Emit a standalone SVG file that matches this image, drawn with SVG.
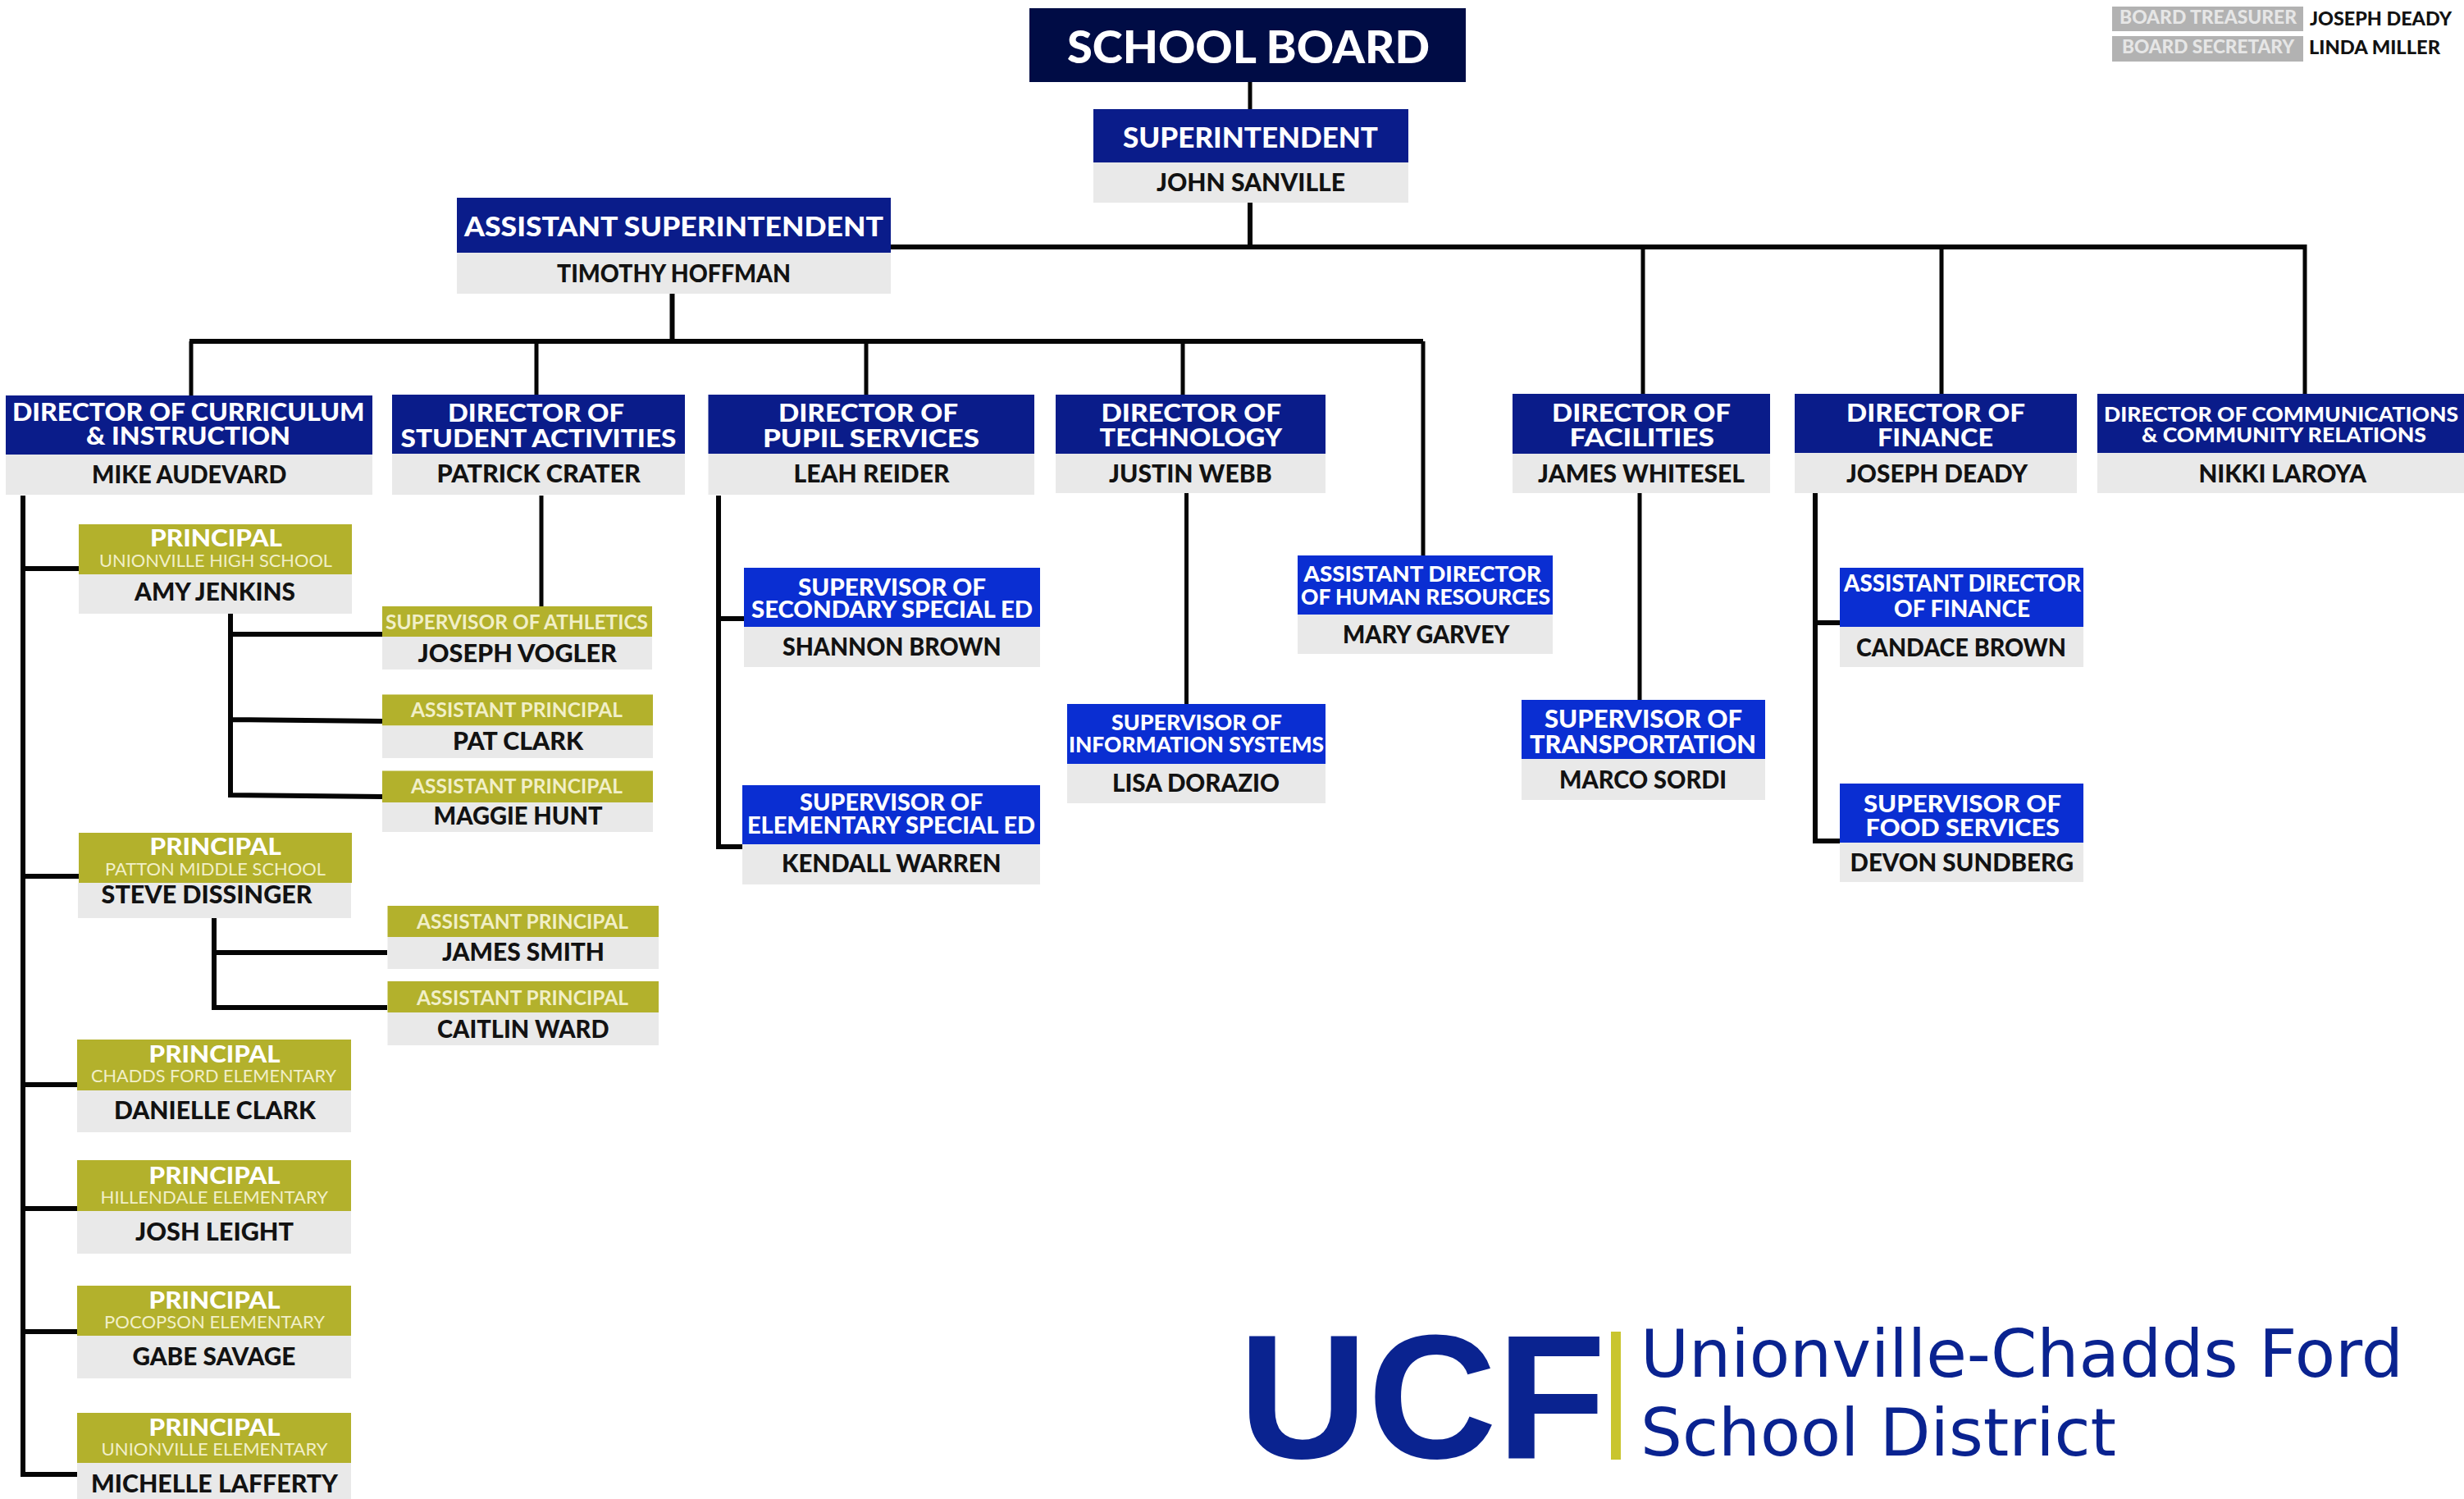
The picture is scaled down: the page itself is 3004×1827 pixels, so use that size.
<svg xmlns="http://www.w3.org/2000/svg" width="3004" height="1827" viewBox="0 0 3004 1827">
<style>
text{font-family:Lato,"Open Sans","Liberation Sans",sans-serif;font-weight:900;white-space:pre}
.w{fill:#fff}.k{fill:#121212}.s{fill:#f1efc8;font-weight:400}.a{fill:#f1efc8;font-weight:700}.l{fill:#e6e6e6}
.board{fill:#000c45}.navy{fill:#0a1c8a}.blue{fill:#0a2ed2}.olive{fill:#b3b12c}.gray{fill:#e9e9e9}.leg{fill:#b2b2b2}
#connectors path{fill:none;stroke:#050505;stroke-width:6;stroke-linejoin:miter}
#connectors .th{stroke-width:5}
</style>
<rect width="3004" height="1827" fill="#fff"/>
<g id="connectors">
<path class="th" d="M1524 100V133"/>
<path d="M1524 247V301M1086 301H2810"/>
<path class="th" d="M2003 301V481M2367 301V481M2810 298V481"/>
<path d="M819.500 358V416M231 416H1735"/>
<path class="th" d="M233 416V482M654 416V481M1056 416V481M1442 416V481M1735 416V677"/>
<path class="th" d="M660 604V739M1446.500 601V858M1999 601V853"/>
<path d="M876 604V1032H905M876 754H907"/>
<path d="M2213 601V1025H2243M2213 759H2243"/>
<path d="M28 604V1797H96M28 693H96M28 1068H96M28 1322H94M28 1473H94M28 1623H94"/>
<path d="M281 748V969L466 971M281 773H466M281 877L466 879"/>
<path d="M261 1119V1228H472M261 1161H472"/>
</g>
<g id="school-board"><rect class="board" x="1255" y="10" width="532" height="90"/><text class="w" x="1301" y="77" font-size="55" textLength="442" lengthAdjust="spacingAndGlyphs">SCHOOL BOARD</text></g>
<g id="superintendent"><rect class="navy" x="1333" y="133" width="384" height="65"/><rect class="gray" x="1333" y="198" width="384" height="49"/><text class="w" x="1369" y="180" font-size="35" textLength="311" lengthAdjust="spacingAndGlyphs">SUPERINTENDENT</text><text class="k" x="1410" y="233" font-size="31" textLength="230" lengthAdjust="spacingAndGlyphs">JOHN SANVILLE</text></g>
<g id="assistant-superintendent"><rect class="navy" x="557" y="241" width="529" height="67"/><rect class="gray" x="557" y="308" width="529" height="50"/><text class="w" x="566" y="288" font-size="33" textLength="511" lengthAdjust="spacingAndGlyphs">ASSISTANT SUPERINTENDENT</text><text class="k" x="679" y="344" font-size="31" textLength="285" lengthAdjust="spacingAndGlyphs">TIMOTHY HOFFMAN</text></g>
<g id="legend-treasurer"><rect class="leg" x="2575" y="8" width="233" height="30"/><text class="l" x="2584" y="29" font-size="22" textLength="216" lengthAdjust="spacingAndGlyphs">BOARD TREASURER</text><text class="k" x="2816" y="31" font-size="23" textLength="173" lengthAdjust="spacingAndGlyphs">JOSEPH DEADY</text></g>
<g id="legend-secretary"><rect class="leg" x="2575" y="44" width="233" height="31"/><text class="l" x="2587" y="65" font-size="22" textLength="210" lengthAdjust="spacingAndGlyphs">BOARD SECRETARY</text><text class="k" x="2815" y="66" font-size="23" textLength="160" lengthAdjust="spacingAndGlyphs">LINDA MILLER</text></g>
<g id="dir-curriculum"><rect class="navy" x="7" y="482" width="447" height="72"/><rect class="gray" x="7" y="554" width="447" height="49"/><text class="w" x="15" y="512.500" font-size="31" textLength="429.500" lengthAdjust="spacingAndGlyphs">DIRECTOR OF CURRICULUM</text><text class="w" x="105" y="541.700" font-size="31" textLength="249" lengthAdjust="spacingAndGlyphs">&amp; INSTRUCTION</text><text class="k" x="112" y="589" font-size="31" textLength="237.500" lengthAdjust="spacingAndGlyphs">MIKE AUDEVARD</text></g>
<g id="dir-student"><rect class="navy" x="478" y="481" width="357" height="72"/><rect class="gray" x="478" y="553" width="357" height="50"/><text class="w" x="546" y="514" font-size="31" textLength="215" lengthAdjust="spacingAndGlyphs">DIRECTOR OF</text><text class="w" x="488.500" y="544.500" font-size="31" textLength="336" lengthAdjust="spacingAndGlyphs">STUDENT ACTIVITIES</text><text class="k" x="532.500" y="588" font-size="31" textLength="248.500" lengthAdjust="spacingAndGlyphs">PATRICK CRATER</text></g>
<g id="dir-pupil"><rect class="navy" x="863.500" y="481" width="397.500" height="72"/><rect class="gray" x="863.500" y="553" width="397.500" height="50"/><text class="w" x="949" y="514" font-size="31" textLength="219" lengthAdjust="spacingAndGlyphs">DIRECTOR OF</text><text class="w" x="930" y="544.500" font-size="31" textLength="264" lengthAdjust="spacingAndGlyphs">PUPIL SERVICES</text><text class="k" x="967.500" y="588" font-size="31" textLength="190" lengthAdjust="spacingAndGlyphs">LEAH REIDER</text></g>
<g id="dir-technology"><rect class="navy" x="1287" y="481" width="329" height="72"/><rect class="gray" x="1287" y="553" width="329" height="48"/><text class="w" x="1342.500" y="514" font-size="31" textLength="219.500" lengthAdjust="spacingAndGlyphs">DIRECTOR OF</text><text class="w" x="1340.600" y="543.700" font-size="31" textLength="222.400" lengthAdjust="spacingAndGlyphs">TECHNOLOGY</text><text class="k" x="1352" y="588" font-size="31" textLength="198.600" lengthAdjust="spacingAndGlyphs">JUSTIN WEBB</text></g>
<g id="dir-facilities"><rect class="navy" x="1844" y="480" width="314" height="73"/><rect class="gray" x="1844" y="553" width="314" height="48"/><text class="w" x="1892" y="514" font-size="31" textLength="218" lengthAdjust="spacingAndGlyphs">DIRECTOR OF</text><text class="w" x="1913.600" y="543.700" font-size="31" textLength="176.400" lengthAdjust="spacingAndGlyphs">FACILITIES</text><text class="k" x="1875" y="588" font-size="31" textLength="252" lengthAdjust="spacingAndGlyphs">JAMES WHITESEL</text></g>
<g id="dir-finance"><rect class="navy" x="2188" y="480" width="344" height="72"/><rect class="gray" x="2188" y="552" width="344" height="49"/><text class="w" x="2251" y="514" font-size="31" textLength="218" lengthAdjust="spacingAndGlyphs">DIRECTOR OF</text><text class="w" x="2289" y="543.700" font-size="31" textLength="141" lengthAdjust="spacingAndGlyphs">FINANCE</text><text class="k" x="2251" y="588" font-size="31" textLength="221" lengthAdjust="spacingAndGlyphs">JOSEPH DEADY</text></g>
<g id="dir-communications"><rect class="navy" x="2557" y="480" width="447" height="72"/><rect class="gray" x="2557" y="552" width="447" height="49"/><text class="w" x="2565" y="514" font-size="25" textLength="432" lengthAdjust="spacingAndGlyphs">DIRECTOR OF COMMUNICATIONS</text><text class="w" x="2611" y="539" font-size="25" textLength="347" lengthAdjust="spacingAndGlyphs">&amp; COMMUNITY RELATIONS</text><text class="k" x="2680.500" y="588" font-size="31" textLength="204.500" lengthAdjust="spacingAndGlyphs">NIKKI LAROYA</text></g>
<g id="sup-secondary"><rect class="blue" x="907" y="692" width="361" height="72"/><rect class="gray" x="907" y="764" width="361" height="49"/><text class="w" x="973" y="726" font-size="29" textLength="229" lengthAdjust="spacingAndGlyphs">SUPERVISOR OF</text><text class="w" x="916" y="753" font-size="29" textLength="343" lengthAdjust="spacingAndGlyphs">SECONDARY SPECIAL ED</text><text class="k" x="954" y="799" font-size="30" textLength="266.500" lengthAdjust="spacingAndGlyphs">SHANNON BROWN</text></g>
<g id="sup-elementary"><rect class="blue" x="905" y="957" width="363" height="72"/><rect class="gray" x="905" y="1029" width="363" height="49"/><text class="w" x="975" y="988" font-size="29" textLength="223.500" lengthAdjust="spacingAndGlyphs">SUPERVISOR OF</text><text class="w" x="911" y="1016" font-size="29" textLength="351" lengthAdjust="spacingAndGlyphs">ELEMENTARY SPECIAL ED</text><text class="k" x="953" y="1063" font-size="30" textLength="267.500" lengthAdjust="spacingAndGlyphs">KENDALL WARREN</text></g>
<g id="sup-info"><rect class="blue" x="1301" y="858" width="315" height="73"/><rect class="gray" x="1301" y="931" width="315" height="48"/><text class="w" x="1355" y="890" font-size="26" textLength="208" lengthAdjust="spacingAndGlyphs">SUPERVISOR OF</text><text class="w" x="1303" y="917" font-size="26" textLength="311" lengthAdjust="spacingAndGlyphs">INFORMATION SYSTEMS</text><text class="k" x="1356" y="965" font-size="30" textLength="204" lengthAdjust="spacingAndGlyphs">LISA DORAZIO</text></g>
<g id="asst-hr"><rect class="blue" x="1582" y="677" width="311" height="72"/><rect class="gray" x="1582" y="749" width="311" height="48"/><text class="w" x="1589.500" y="709" font-size="26" textLength="289.500" lengthAdjust="spacingAndGlyphs">ASSISTANT DIRECTOR</text><text class="w" x="1586" y="737" font-size="26" textLength="304" lengthAdjust="spacingAndGlyphs">OF HUMAN RESOURCES</text><text class="k" x="1637" y="784" font-size="30" textLength="203.500" lengthAdjust="spacingAndGlyphs">MARY GARVEY</text></g>
<g id="sup-transport"><rect class="blue" x="1855" y="853" width="297" height="72"/><rect class="gray" x="1855" y="925" width="297" height="50"/><text class="w" x="1883" y="887" font-size="31" textLength="241" lengthAdjust="spacingAndGlyphs">SUPERVISOR OF</text><text class="w" x="1865" y="918" font-size="31" textLength="276" lengthAdjust="spacingAndGlyphs">TRANSPORTATION</text><text class="k" x="1901" y="961" font-size="30" textLength="204" lengthAdjust="spacingAndGlyphs">MARCO SORDI</text></g>
<g id="asst-finance"><rect class="blue" x="2243" y="692" width="297" height="72"/><rect class="gray" x="2243" y="764" width="297" height="49"/><text class="w" x="2248" y="721" font-size="29" textLength="289" lengthAdjust="spacingAndGlyphs">ASSISTANT DIRECTOR</text><text class="w" x="2309" y="752" font-size="29" textLength="166" lengthAdjust="spacingAndGlyphs">OF FINANCE</text><text class="k" x="2263" y="800" font-size="30" textLength="256" lengthAdjust="spacingAndGlyphs">CANDACE BROWN</text></g>
<g id="sup-food"><rect class="blue" x="2243" y="955" width="297" height="72"/><rect class="gray" x="2243" y="1027" width="297" height="48"/><text class="w" x="2272" y="990" font-size="29" textLength="241" lengthAdjust="spacingAndGlyphs">SUPERVISOR OF</text><text class="w" x="2274.500" y="1019" font-size="29" textLength="236.500" lengthAdjust="spacingAndGlyphs">FOOD SERVICES</text><text class="k" x="2255.600" y="1062" font-size="30" textLength="272.400" lengthAdjust="spacingAndGlyphs">DEVON SUNDBERG</text></g>
<g id="principal-uhs"><rect class="olive" x="96" y="639" width="333" height="61"/><rect class="gray" x="96" y="700" width="333" height="48"/><text class="w" x="183" y="666" font-size="28" textLength="161" lengthAdjust="spacingAndGlyphs">PRINCIPAL</text><text class="s" x="121" y="690.600" font-size="22" textLength="284" lengthAdjust="spacingAndGlyphs">UNIONVILLE HIGH SCHOOL</text><text class="k" x="164" y="732" font-size="30" textLength="196" lengthAdjust="spacingAndGlyphs">AMY JENKINS</text></g>
<g id="sup-athletics"><rect class="olive" x="466" y="739" width="329" height="37"/><rect class="gray" x="466" y="776" width="329" height="40"/><text class="a" x="470" y="767" font-size="24" textLength="320" lengthAdjust="spacingAndGlyphs">SUPERVISOR OF ATHLETICS</text><text class="k" x="509.500" y="807" font-size="30" textLength="242.500" lengthAdjust="spacingAndGlyphs">JOSEPH VOGLER</text></g>
<g id="ap-clark"><rect class="olive" x="466" y="846.500" width="330" height="38"/><rect class="gray" x="466" y="884.500" width="330" height="39.500"/><text class="a" x="501" y="873.500" font-size="24" textLength="258" lengthAdjust="spacingAndGlyphs">ASSISTANT PRINCIPAL</text><text class="k" x="552" y="914" font-size="30" textLength="159" lengthAdjust="spacingAndGlyphs">PAT CLARK</text></g>
<g id="ap-hunt"><rect class="olive" x="466" y="939.500" width="330" height="38.500"/><rect class="gray" x="466" y="978" width="330" height="36"/><text class="a" x="501" y="967" font-size="24" textLength="258" lengthAdjust="spacingAndGlyphs">ASSISTANT PRINCIPAL</text><text class="k" x="528.500" y="1005" font-size="30" textLength="206" lengthAdjust="spacingAndGlyphs">MAGGIE HUNT</text></g>
<g id="principal-patton"><rect class="olive" x="96" y="1015" width="333" height="61"/><rect class="gray" x="95" y="1076" width="333" height="43"/><text class="w" x="182.600" y="1042" font-size="28" textLength="160.400" lengthAdjust="spacingAndGlyphs">PRINCIPAL</text><text class="s" x="128" y="1067" font-size="22" textLength="269" lengthAdjust="spacingAndGlyphs">PATTON MIDDLE SCHOOL</text><text class="k" x="123.600" y="1101" font-size="30" textLength="256.900" lengthAdjust="spacingAndGlyphs">STEVE DISSINGER</text></g>
<g id="ap-smith"><rect class="olive" x="472.500" y="1104" width="330.500" height="38"/><rect class="gray" x="472.500" y="1142" width="330.500" height="39"/><text class="a" x="508" y="1132" font-size="24" textLength="258" lengthAdjust="spacingAndGlyphs">ASSISTANT PRINCIPAL</text><text class="k" x="539" y="1170.600" font-size="30" textLength="198" lengthAdjust="spacingAndGlyphs">JAMES SMITH</text></g>
<g id="ap-ward"><rect class="olive" x="472.500" y="1196" width="330.500" height="38"/><rect class="gray" x="472.500" y="1234" width="330.500" height="40"/><text class="a" x="508" y="1225" font-size="24" textLength="258" lengthAdjust="spacingAndGlyphs">ASSISTANT PRINCIPAL</text><text class="k" x="533" y="1265" font-size="30" textLength="209.500" lengthAdjust="spacingAndGlyphs">CAITLIN WARD</text></g>
<g id="principal-chadds"><rect class="olive" x="94" y="1267" width="334" height="62"/><rect class="gray" x="94" y="1329" width="334" height="51"/><text class="w" x="181.600" y="1295" font-size="28" textLength="159.900" lengthAdjust="spacingAndGlyphs">PRINCIPAL</text><text class="s" x="111" y="1318.600" font-size="22" textLength="299" lengthAdjust="spacingAndGlyphs">CHADDS FORD ELEMENTARY</text><text class="k" x="139" y="1364" font-size="30" textLength="246" lengthAdjust="spacingAndGlyphs">DANIELLE CLARK</text></g>
<g id="principal-hillendale"><rect class="olive" x="94" y="1414" width="334" height="62"/><rect class="gray" x="94" y="1476" width="334" height="52"/><text class="w" x="181.600" y="1443" font-size="28" textLength="159.900" lengthAdjust="spacingAndGlyphs">PRINCIPAL</text><text class="s" x="122.500" y="1466.600" font-size="22" textLength="277.500" lengthAdjust="spacingAndGlyphs">HILLENDALE ELEMENTARY</text><text class="k" x="165" y="1512" font-size="30" textLength="193" lengthAdjust="spacingAndGlyphs">JOSH LEIGHT</text></g>
<g id="principal-pocopson"><rect class="olive" x="94" y="1567" width="334" height="61"/><rect class="gray" x="94" y="1628" width="334" height="52"/><text class="w" x="181.600" y="1595" font-size="28" textLength="159.900" lengthAdjust="spacingAndGlyphs">PRINCIPAL</text><text class="s" x="127" y="1618.600" font-size="22" textLength="269" lengthAdjust="spacingAndGlyphs">POCOPSON ELEMENTARY</text><text class="k" x="161.500" y="1663.600" font-size="30" textLength="198.900" lengthAdjust="spacingAndGlyphs">GABE SAVAGE</text></g>
<g id="principal-unionville"><rect class="olive" x="94" y="1722" width="334" height="61"/><rect class="gray" x="94" y="1783" width="334" height="44"/><text class="w" x="181.600" y="1750" font-size="28" textLength="159.900" lengthAdjust="spacingAndGlyphs">PRINCIPAL</text><text class="s" x="123.600" y="1774" font-size="22" textLength="275.900" lengthAdjust="spacingAndGlyphs">UNIONVILLE ELEMENTARY</text><text class="k" x="111" y="1819" font-size="30" textLength="301" lengthAdjust="spacingAndGlyphs">MICHELLE LAFFERTY</text></g>
<g id="logo">
<text x="1510" y="1777" font-size="216" style="font-family:'Liberation Sans',sans-serif;font-weight:700" fill="#0a2390" textLength="448" lengthAdjust="spacingAndGlyphs">UCF</text>
<rect x="1964" y="1623" width="12" height="156" fill="#c9c52e"/>
<text x="2000" y="1678" font-size="80" style="font-family:'DejaVu Sans',sans-serif;font-weight:400" fill="#0a2390" textLength="930" lengthAdjust="spacingAndGlyphs">Unionville-Chadds Ford</text>
<text x="2000" y="1774" font-size="80" style="font-family:'DejaVu Sans',sans-serif;font-weight:400" fill="#0a2390" textLength="580" lengthAdjust="spacingAndGlyphs">School District</text>
</g>
</svg>
